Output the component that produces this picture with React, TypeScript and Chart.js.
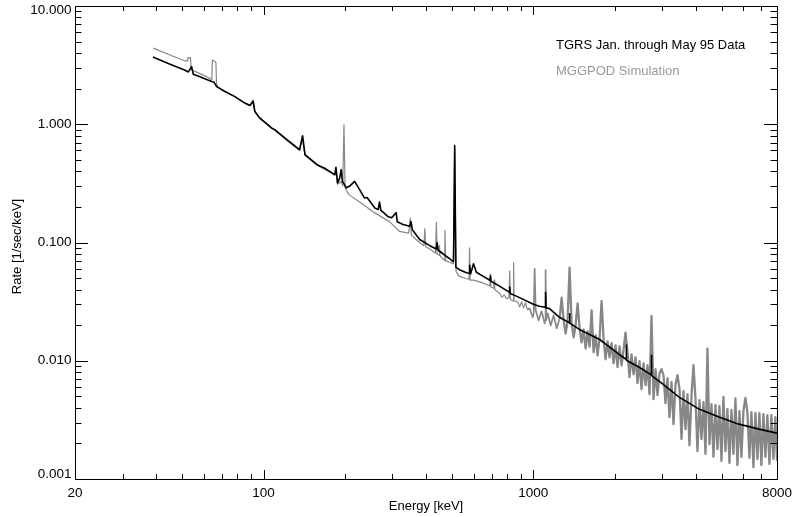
import React, { useEffect, useRef } from "react";
import { Chart, registerables } from "chart.js";

Chart.register(...registerables);

// ---------- axis ticks ----------
const xLabelTicks = [20, 100, 1000, 8000];
const xMajorTicks = [100, 1000];
const xMinorTicks = [30, 40, 50, 60, 70, 80, 90, 200, 300, 400, 500, 600, 700, 800, 900, 2000, 3000, 4000, 5000, 6000, 7000];
const yMajorTicks = [0.001, 0.01, 0.1, 1, 10];
const yMinorTicks = [
  0.002, 0.003, 0.004, 0.005, 0.006, 0.007, 0.008, 0.009,
  0.02, 0.03, 0.04, 0.05, 0.06, 0.07, 0.08, 0.09,
  0.2, 0.3, 0.4, 0.5, 0.6, 0.7, 0.8, 0.9,
  2, 3, 4, 5, 6, 7, 8, 9,
];

// ---------- TGRS data (black) ----------
const tgrsEnergy = [
  38.9, 45, 51.2, 52.6, 54.1, 54.9, 58.1, 64.2, 65.5, 67.0, 71.9, 78, 85.2, 89.0, 91.5, 92.8, 96.4,
  107, 110, 122, 136, 139.5, 142.4, 158, 170, 183.6, 185.5, 188, 191.5, 194, 196, 202.6, 208.6,
  217.5, 227, 236.5, 242, 258.5, 266, 269, 272, 290, 298.6, 310, 313, 329, 348, 352, 356, 379,
  413, 437, 440, 444, 489, 500, 506, 511, 516, 530, 565, 578, 581, 585, 600, 615, 650, 690, 693,
  697, 749, 814, 817, 821, 865, 1000, 1053, 1105, 1110, 1115, 1148, 1249, 1358, 1362, 1366, 1481,
  1755, 2081, 2205, 2210, 2215, 2467, 2735, 2740, 2745, 2925, 3468, 4111, 4874, 5779, 6851, 8000,
];
const tgrsRate = [
  3.70, 3.22, 2.86, 2.77, 3.07, 2.65, 2.52, 2.30, 2.27, 2.08, 1.89, 1.72, 1.51, 1.44, 1.56, 1.28, 1.14,
  0.93, 0.90, 0.74, 0.61, 0.80, 0.553, 0.455, 0.42, 0.375, 0.432, 0.319, 0.35, 0.413, 0.33, 0.29, 0.30,
  0.329, 0.28, 0.238, 0.24, 0.196, 0.19, 0.22, 0.188, 0.165, 0.162, 0.179, 0.15, 0.142, 0.137, 0.15, 0.128, 0.106,
  0.094, 0.088, 0.1, 0.086, 0.0729, 0.07, 0.069, 0.66, 0.062, 0.0592, 0.0555, 0.055, 0.064, 0.054, 0.066, 0.056, 0.052, 0.048, 0.052,
  0.047, 0.0428, 0.038, 0.042, 0.037, 0.0352, 0.03, 0.0289, 0.0283, 0.038, 0.028, 0.0276, 0.0233, 0.021, 0.025, 0.0208, 0.0184,
  0.0152, 0.0113, 0.0103, 0.0136, 0.0101, 0.00881, 0.0076, 0.0111, 0.0075, 0.00671, 0.00492, 0.0039, 0.00334, 0.00291, 0.00264, 0.00244,
];

// ---------- MGGPOD simulation (grey), low-energy part ----------
const simLowEnergy = [
  39.0, 45.0, 51.2, 52.2, 52.4, 53.6, 53.9, 54.8, 58.1, 63.2, 64.3, 64.6, 66.0, 66.6, 66.9, 67.6,
  71.9, 78, 85.2, 89.0, 91.5, 92.8, 96.4, 107, 110, 122, 136, 139.5, 142.4, 158, 170, 183.6, 185.5,
  188, 194, 196.5, 198.6, 200.5, 207, 227, 258.5, 293, 319.5, 345, 350, 353, 379, 393, 396, 399,
  413, 434, 437, 440, 447, 449, 451, 467, 470, 473, 489, 505, 511, 517, 530, 565, 577, 580, 583,
  600, 650, 690, 693, 696, 713, 716, 719, 749, 765, 780, 795, 812, 817, 822, 842, 845, 848, 865,
  878, 890, 905, 920, 935, 950,
];
const simLowRate = [
  4.40, 3.85, 3.43, 3.43, 3.64, 3.66, 2.88, 2.85, 2.68, 2.45, 2.37, 3.50, 3.40, 3.30, 2.25, 2.06,
  1.89, 1.72, 1.51, 1.45, 1.61, 1.30, 1.14, 0.93, 0.89, 0.73, 0.60, 0.76, 0.545, 0.45, 0.41, 0.37, 0.40,
  0.31, 0.33, 0.30, 0.99, 0.29, 0.254, 0.22, 0.178, 0.15, 0.124, 0.12, 0.161, 0.115, 0.1, 0.094, 0.131, 0.092,
  0.088, 0.081, 0.148, 0.08, 0.078, 0.094, 0.077, 0.071, 0.127, 0.07, 0.068, 0.066, 0.62, 0.057, 0.052, 0.0494, 0.049, 0.09, 0.048,
  0.048, 0.0455, 0.043, 0.0537, 0.042, 0.041, 0.048, 0.04, 0.0372, 0.0345, 0.036, 0.0335, 0.034, 0.0573, 0.033, 0.032, 0.0675, 0.032, 0.0318,
  0.031, 0.0285, 0.0315, 0.028, 0.031, 0.027,
];

// ---------- MGGPOD simulation (grey), 1 MeV region ----------
const simMidEnergy = [969, 994, 1003, 1011, 1020, 1046, 1073, 1101, 1105, 1110, 1115, 1130, 1159, 1189, 1220];
const simMidRate = [0.0277, 0.0233, 0.025, 0.06, 0.0267, 0.022, 0.0262, 0.0207, 0.022, 0.0584, 0.022, 0.0252, 0.0199, 0.0242, 0.0188];

// ---------- MGGPOD simulation (grey), high-energy noisy part ----------
const simHighEnergy = [
  1251, 1273, 1294, 1317, 1339, 1362, 1386, 1410, 1434, 1459,
  1484, 1509, 1535, 1562, 1588, 1616, 1644, 1672, 1701, 1730,
  1760, 1790, 1821, 1852, 1884, 1916, 1949, 1983, 2017, 2051,
  2087, 2123, 2159, 2196, 2234, 2272, 2312, 2351, 2392, 2433,
  2475, 2517, 2561, 2605, 2649, 2695, 2741, 2789, 2837, 2885,
  2935, 2985, 3037, 3089, 3142, 3196, 3251, 3307, 3364, 3422,
  3481, 3541, 3601, 3663, 3726, 3790, 3856, 3922, 3989, 4058,
  4128, 4199, 4271, 4345, 4419, 4495, 4573, 4651, 4731, 4813,
  4895, 4980, 5065, 5152, 5241, 5331, 5423, 5516, 5611, 5707,
  5806, 5905, 6007, 6110, 6215, 6322, 6431, 6542, 6654, 6769,
  6885, 7003, 7124, 7246, 7371, 7498, 7627, 7758, 7891, 8000,
];
const simHighRate = [
  0.0228, 0.0341, 0.0224, 0.0170, 0.0216, 0.0612, 0.0211, 0.0158, 0.0199, 0.0306,
  0.0188, 0.0143, 0.0184, 0.0127, 0.0177, 0.0132, 0.0267, 0.0118, 0.0164, 0.0111,
  0.0158, 0.0320, 0.0152, 0.0103, 0.0146, 0.0107, 0.0141, 0.00952, 0.0135, 0.00882,
  0.0132, 0.00916, 0.0123, 0.0173, 0.0118, 0.00726, 0.0113, 0.00769, 0.0107, 0.00646,
  0.0099, 0.00575, 0.00952, 0.00621, 0.00916, 0.00522, 0.0239, 0.00473, 0.00848, 0.00512,
  0.00784, 0.00848, 0.00754, 0.00438, 0.00712, 0.00334, 0.00659, 0.00291, 0.00633, 0.00755,
  0.00575, 0.00218, 0.00553, 0.00264, 0.00522, 0.00193, 0.00502, 0.00916, 0.00482, 0.00172,
  0.00464, 0.00218, 0.00446, 0.00163, 0.01268, 0.00197, 0.00429, 0.00154, 0.00421, 0.00179,
  0.00413, 0.00142, 0.00495, 0.00172, 0.0039, 0.00137, 0.00383, 0.00163, 0.0048, 0.00131,
  0.00375, 0.00154, 0.00375, 0.00485, 0.00368, 0.00151, 0.00368, 0.00126, 0.00361, 0.00148,
  0.00361, 0.00131, 0.00354, 0.00154, 0.00347, 0.00134, 0.00347, 0.00148, 0.00334, 0.00142,
];

const simEnergy = [...simLowEnergy, ...simMidEnergy, ...simHighEnergy];
const simRate = [...simLowRate, ...simMidRate, ...simHighRate];

const legendTexts = ["TGRS Jan. through May 95 Data", "MGGPOD Simulation"];
const xTitle = "Energy [keV]";
const yTitle = "Rate [1/sec/keV]";

const FONT = '"Liberation Sans", Arial, Helvetica, sans-serif';

const framePlugin = {
  id: "idlFrame",
  afterDraw(chart: any) {
    const { ctx, chartArea, scales } = chart;
    const { left, right, top, bottom } = chartArea;
    const xs = scales.x;
    const ys = scales.y;
    ctx.save();
    ctx.strokeStyle = "#000";
    ctx.lineWidth = 1;
    ctx.strokeRect(Math.round(left) + 0.5, Math.round(top) + 0.5, Math.round(right - left), Math.round(bottom - top));

    const line = (x1: number, y1: number, x2: number, y2: number) => {
      ctx.beginPath();
      ctx.moveTo(x1, y1);
      ctx.lineTo(x2, y2);
      ctx.stroke();
    };
    const xTick = (v: number, len: number) => {
      const px = Math.round(xs.getPixelForValue(v)) + 0.5;
      line(px, bottom, px, bottom - len);
      line(px, top, px, top + len);
    };
    xMajorTicks.forEach((v) => xTick(v, 9));
    xMinorTicks.forEach((v) => xTick(v, 5));
    const yTick = (v: number, len: number) => {
      const py = Math.round(ys.getPixelForValue(v)) + 0.5;
      line(left, py, left + len, py);
      line(right, py, right - len, py);
    };
    yMajorTicks.forEach((v) => yTick(v, 13));
    yMinorTicks.forEach((v) => yTick(v, 6.5));

    // tick labels
    ctx.fillStyle = "#000";
    ctx.font = `13.5px ${FONT}`;
    ctx.textAlign = "center";
    ctx.textBaseline = "alphabetic";
    xLabelTicks.forEach((v) => {
      ctx.fillText(String(v), xs.getPixelForValue(v), 496.5);
    });
    ctx.textAlign = "right";
    ctx.textBaseline = "middle";
    yMajorTicks.forEach((v) => {
      let py = ys.getPixelForValue(v);
      py = Math.min(Math.max(py, top + 4), bottom - 4.5);
      ctx.fillText(v.toFixed(3), left - 3.5, py);
    });

    // axis titles
    ctx.font = `13px ${FONT}`;
    ctx.textAlign = "center";
    ctx.textBaseline = "alphabetic";
    ctx.fillText(xTitle, (left + right) / 2, 510);
    ctx.save();
    ctx.translate(21, (top + bottom) / 2 + 4);
    ctx.rotate(-Math.PI / 2);
    ctx.fillText(yTitle, 0, 0);
    ctx.restore();

    // legend texts
    ctx.textAlign = "left";
    ctx.font = `13px ${FONT}`;
    ctx.fillStyle = "#000";
    ctx.fillText(legendTexts[0], 556, 48.5);
    ctx.fillStyle = "#999999";
    ctx.fillText(legendTexts[1], 556, 75);
    ctx.restore();
  },
};

export default function App() {
  const canvasRef = useRef<HTMLCanvasElement | null>(null);

  useEffect(() => {
    const canvas = canvasRef.current;
    if (!canvas) return;
    const chart = new Chart(canvas, {
      type: "line",
      data: {
        datasets: [
          {
            label: legendTexts[0],
            data: tgrsEnergy.map((e, i) => ({ x: e, y: tgrsRate[i] })),
            borderColor: "#000000",
            borderWidth: 1.6,
            borderJoinStyle: "round",
            pointRadius: 0,
            tension: 0,
            order: 0,
          },
          {
            label: legendTexts[1],
            data: simEnergy.map((e, i) => ({ x: e, y: simRate[i] })),
            borderColor: "#878787",
            borderWidth: 1.2,
            borderJoinStyle: "round",
            pointRadius: 0,
            tension: 0,
            order: 1,
            segment: {
              borderWidth: (c: any) => (c.p0.parsed.x >= 1240 ? 2.3 : c.p0.parsed.x >= 950 ? 1.7 : 1.2),
            },
          },
        ],
      },
      options: {
        responsive: false,
        animation: false,
        devicePixelRatio: 1,
        layout: { padding: { left: 75, right: 15, top: 6, bottom: 38 } },
        scales: {
          x: { type: "logarithmic", min: 20, max: 8000, display: false },
          y: { type: "logarithmic", min: 0.001, max: 10, display: false },
        },
        plugins: {
          legend: { display: false },
          tooltip: { enabled: false },
        },
        events: [],
      },
      plugins: [framePlugin],
    });
    return () => chart.destroy();
  }, []);

  return (
    <div style={{ position: "fixed", left: 0, top: 0, width: 792, height: 517, background: "#fff" }}>
      <canvas ref={canvasRef} width={792} height={517} style={{ width: 792, height: 517, display: "block" }} />
    </div>
  );
}
